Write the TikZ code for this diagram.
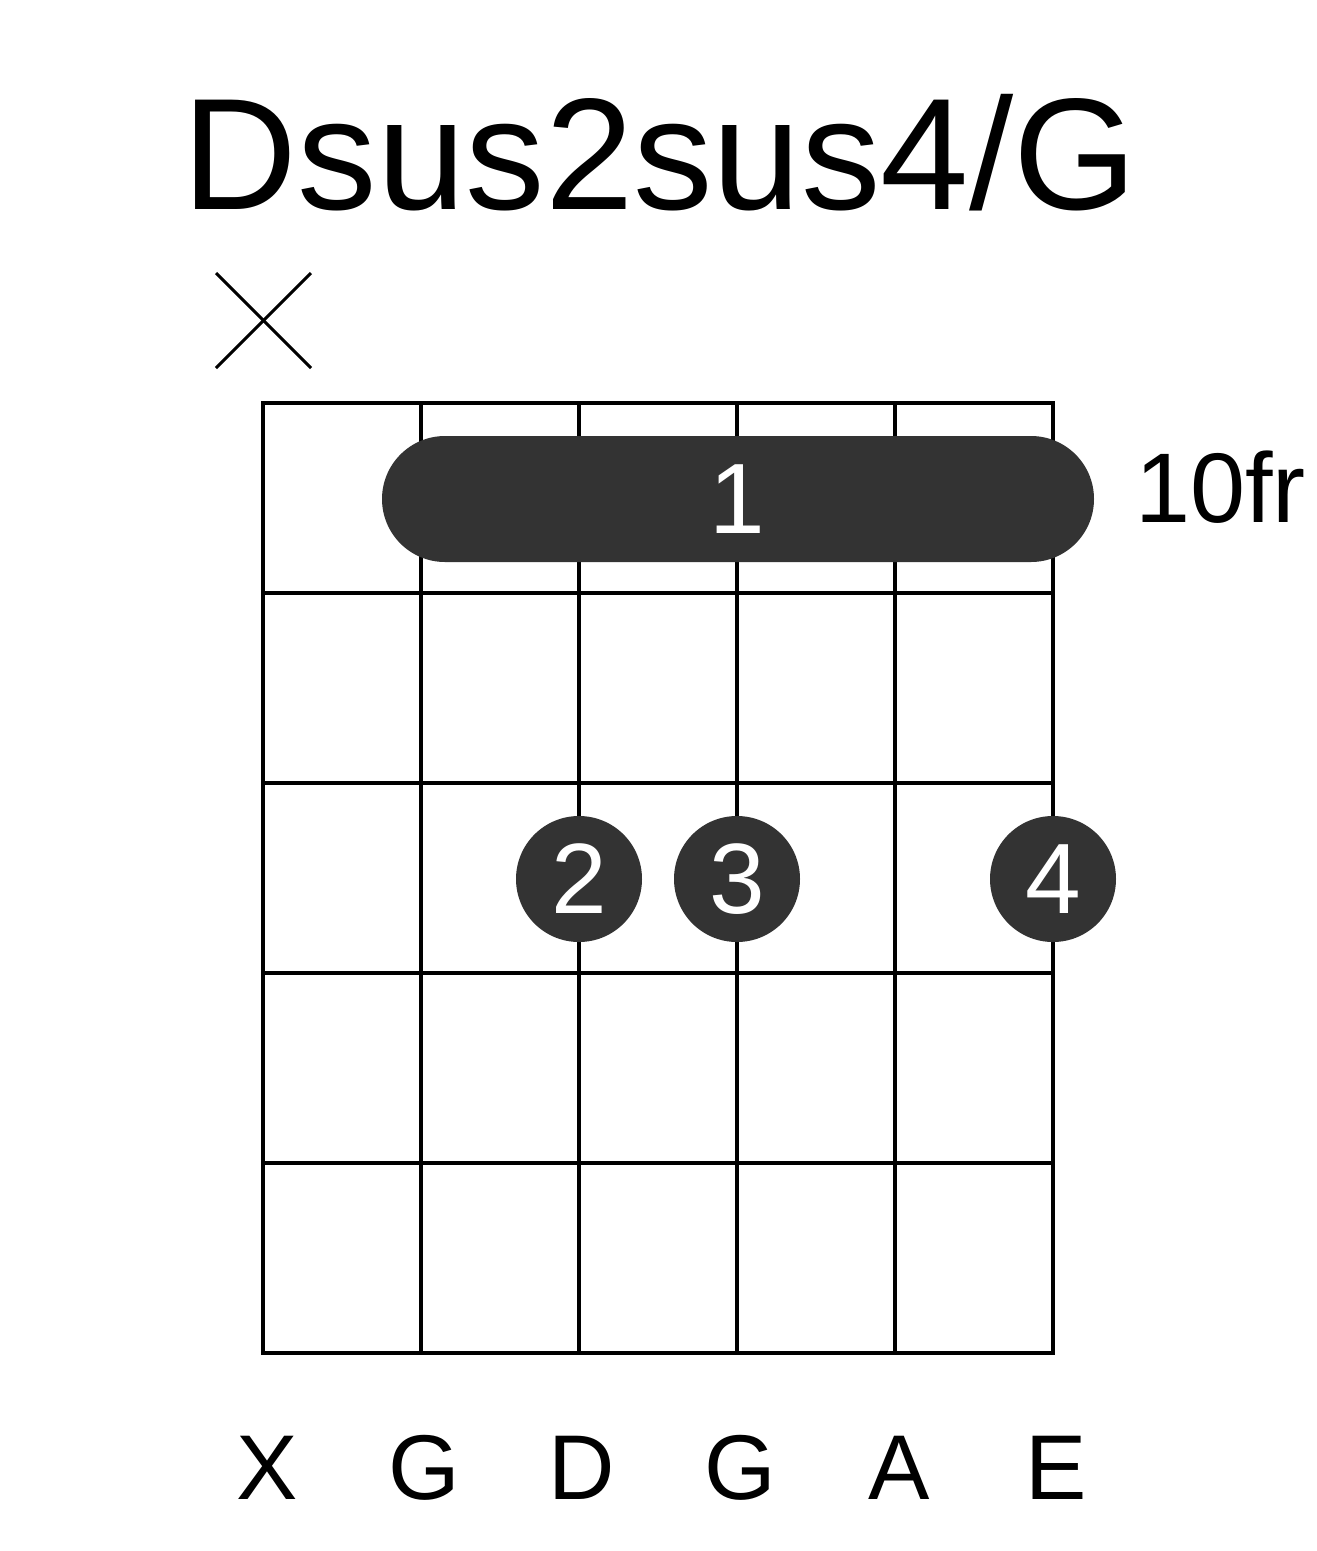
\documentclass[tikz,border=0pt]{standalone}
\usepackage{fontspec}
\setmainfont{Liberation Sans}
\definecolor{dotgray}{HTML}{333333}
\tikzset{
  gridline/.style={line width=4.3pt, line cap=rect},
  fingerdot/.style={circle, fill=dotgray, minimum size=126pt, inner sep=0pt, text=white, font=\fontsize{100}{100}\selectfont},
  barrelabel/.style={text=white, font=\fontsize{100}{100}\selectfont, inner sep=0pt},
  strlabel/.style={anchor=base, inner sep=0pt, font=\fontsize{92}{92}\selectfont},
  mutemark/.style={line width=3pt}
}
\begin{document}
\begin{tikzpicture}[x=1pt,y=-1pt]
\useasboundingbox (0,0) rectangle (1317,1551);
% title
\node[anchor=base, inner sep=0pt, font=\fontsize{159}{159}\selectfont] (title) at (660,209) {Dsus2sus4/G};
% grid
\foreach \i/\x in {1/263,2/421,3/579,4/737,5/895,6/1053} {
  \coordinate (s\i t) at (\x,403);
  \coordinate (s\i b) at (\x,1353);
  \draw[gridline] (s\i t) -- (s\i b);
}
\foreach \j/\y in {0/403,1/593,2/783,3/973,4/1163,5/1353} {
  \coordinate (f\j l) at (263,\y);
  \coordinate (f\j r) at (1053,\y);
  \draw[gridline] (f\j l) -- (f\j r);
}
% mute mark
\coordinate (m1) at (216,273);
\coordinate (m2) at (311,368);
\coordinate (m3) at (311,273);
\coordinate (m4) at (216,368);
\draw[mutemark] (m1) -- (m2);
\draw[mutemark] (m3) -- (m4);
% barre
\fill[dotgray, rounded corners=63pt] (382,436) rectangle (1094,562);
\node[barrelabel] (barre) at (737,499) {1};
% fret label
\node[anchor=base west, inner sep=0pt, font=\fontsize{99}{99}\selectfont] (fr) at (1135,522) {10fr};
% finger dots
\node[fingerdot] (d2) at (579,879) {2};
\node[fingerdot] (d3) at (737,879) {3};
\node[fingerdot] (d4) at (1053,879) {4};
% string names
\node[strlabel] (n1) at (267,1499) {X};
\node[strlabel] (n2) at (424,1499) {G};
\node[strlabel] (n3) at (582,1499) {D};
\node[strlabel] (n4) at (740,1499) {G};
\node[strlabel] (n5) at (899,1499) {A};
\node[strlabel] (n6) at (1056,1499) {E};
\end{tikzpicture}
\end{document}
